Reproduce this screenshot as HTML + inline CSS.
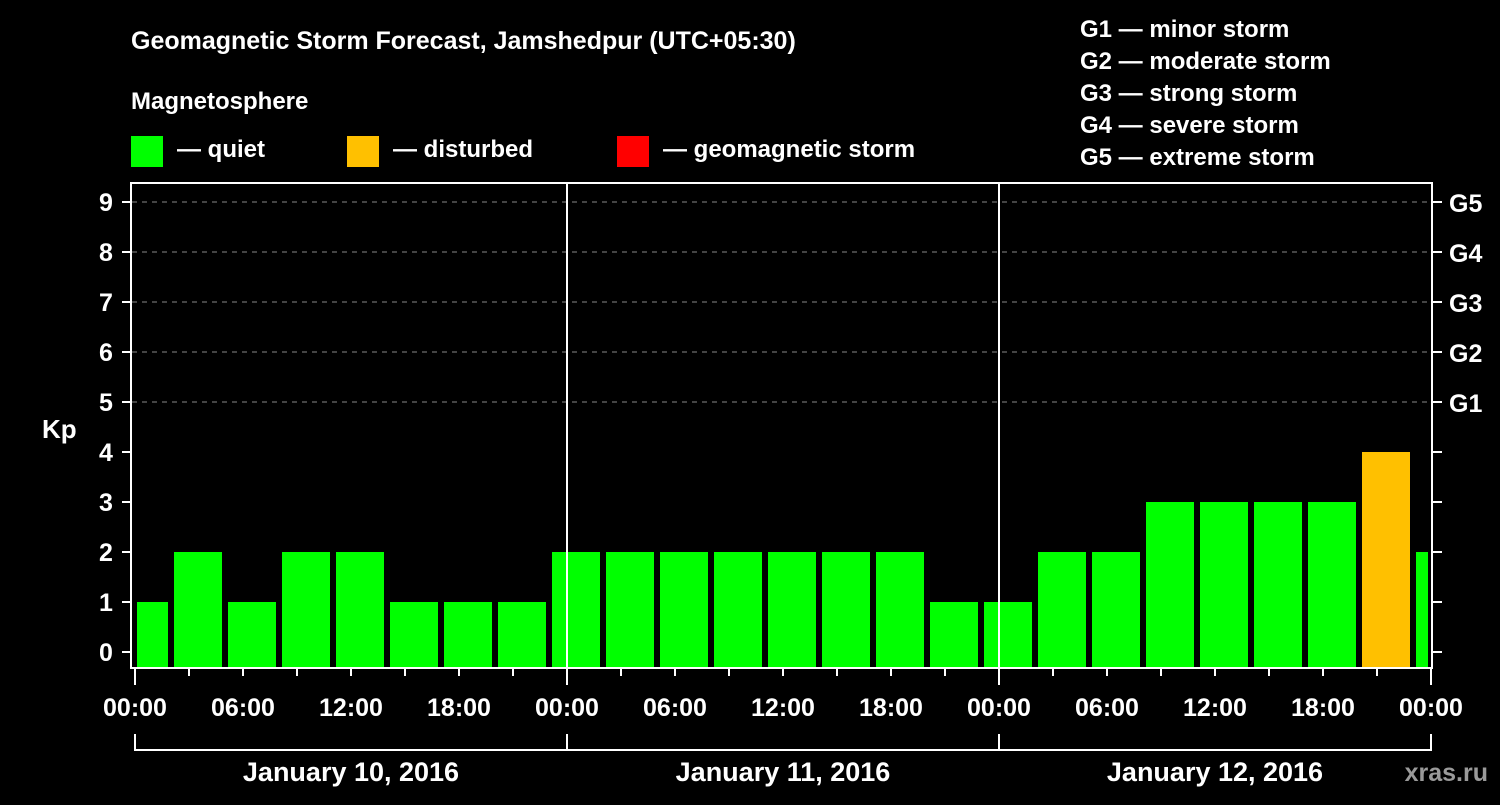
<!DOCTYPE html>
<html><head><meta charset="utf-8"><style>
body{margin:0;background:#000;width:1500px;height:800px;overflow:hidden}
svg text{font-family:"Liberation Sans",sans-serif;font-weight:bold;fill:#fff}
</style></head><body>
<svg id="c" width="1500" height="800" xmlns="http://www.w3.org/2000/svg">
<text x="131" y="49" font-size="25">Geomagnetic Storm Forecast, Jamshedpur (UTC+05:30)</text>
<text x="131" y="109" font-size="24">Magnetosphere</text>
<g><rect x="131" y="136" width="32" height="31" fill="#00ff00"/><text x="177" y="157" font-size="24">— quiet</text></g>
<g><rect x="347" y="136" width="32" height="31" fill="#ffc000"/><text x="393" y="157" font-size="24">— disturbed</text></g>
<g><rect x="617" y="136" width="32" height="31" fill="#ff0000"/><text x="663" y="157" font-size="24">— geomagnetic storm</text></g>
<g font-size="24">
<text x="1080" y="37">G1 — minor storm</text><text x="1080" y="69">G2 — moderate storm</text><text x="1080" y="101">G3 — strong storm</text><text x="1080" y="133">G4 — severe storm</text><text x="1080" y="165">G5 — extreme storm</text></g>
<text x="42" y="438" font-size="26">Kp</text>
<text x="1488" y="781" font-size="25" text-anchor="end" fill="#999" style="fill:#9a9a9a">xras.ru</text>
<g id="plot"></g>
</svg>
<script>
const kpValues=[1,2,1,2,2,1,1,1,2,2,2,2,2,2,2,1,1,2,2,3,3,3,3,4,2];
const slotStartHours=[-1,2,5,8,11,14,17,20,23,26,29,32,35,38,41,44,47,50,53,56,59,62,65,68,71];
const yTicks=[0,1,2,3,4,5,6,7,8,9];
const gLabels=["G1","G2","G3","G4","G5"];
const timeLabels=["00:00","06:00","12:00","18:00","00:00","06:00","12:00","18:00","00:00","06:00","12:00","18:00","00:00"];
const dayLabels=["January 10, 2016","January 11, 2016","January 12, 2016"];
const NS="http://www.w3.org/2000/svg";
const g=document.getElementById('plot');
const x=h=>135+h*18, y=v=>652-v*50;
function el(t,a,p){const e=document.createElementNS(NS,t);for(const k in a)e.setAttribute(k,a[k]);(p||g).appendChild(e);return e;}
// grid
for(let v=5;v<=9;v++){const l=el('line',{x1:132,x2:1431,y1:y(v),y2:y(v),stroke:'#888','stroke-dasharray':'5,5','stroke-width':1});

}
// bars
kpValues.forEach((v,i)=>{const c=x(slotStartHours[i]+1.5);let x0=Math.max(c-24,137),x1=Math.min(c+24,1428);
const r=el('rect',{x:x0,y:y(v),width:x1-x0,height:668-y(v),fill:v>=5?'#ff0000':(v>=4?'#ffc000':'#00ff00')});

});
// day separators
[1,2].forEach(d=>{const l=el('line',{x1:x(24*d),x2:x(24*d),y1:183,y2:668,stroke:'#fff','stroke-width':2});

});
// frame
const f=el('rect',{x:131,y:183,width:1301,height:485,fill:'none',stroke:'#fff','stroke-width':2});


// y ticks
yTicks.forEach(v=>{el('line',{x1:122,x2:131,y1:y(v),y2:y(v),stroke:'#fff','stroke-width':2});
el('line',{x1:1432,x2:1442,y1:y(v),y2:y(v),stroke:'#fff','stroke-width':2});
const t=el('text',{x:106,y:y(v)+9,'font-size':25,'text-anchor':'middle'});t.textContent=v;

});
gLabels.forEach((s,i)=>{const t=el('text',{x:1449,y:y(5+i)+10,'font-size':25});t.textContent=s;

});
// x ticks
for(let h=0;h<=72;h+=3){const big=h%24==0;el('line',{x1:x(h),x2:x(h),y1:668,y2:big?685:676,stroke:'#fff','stroke-width':2});}
timeLabels.forEach((s,i)=>{const t=el('text',{x:x(i*6),y:716,'font-size':25,'text-anchor':'middle'});t.textContent=s;

});
el('line',{x1:x(0),x2:x(72),y1:750,y2:750,stroke:'#fff','stroke-width':2});
for(let d=0;d<=3;d++)el('line',{x1:x(24*d),x2:x(24*d),y1:734,y2:751,stroke:'#fff','stroke-width':2});
dayLabels.forEach((s,i)=>{const t=el('text',{x:x(24*i+12),y:781,'font-size':27,'text-anchor':'middle'});t.textContent=s;

});
</script>
</body></html>
